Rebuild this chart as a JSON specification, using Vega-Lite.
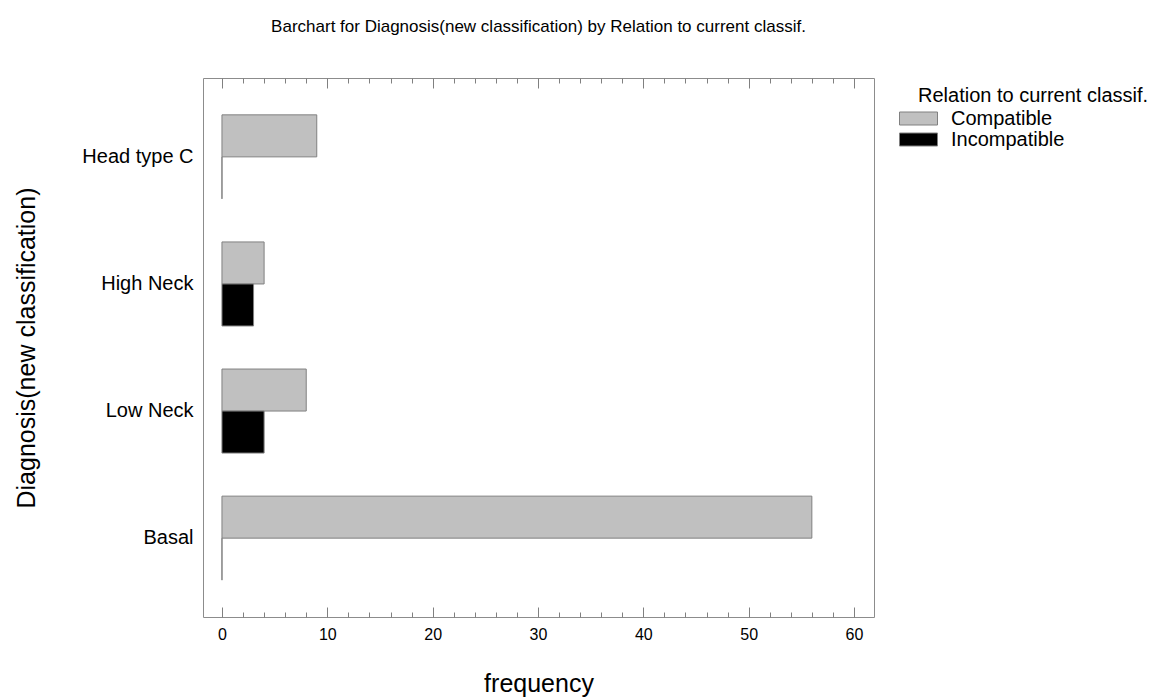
{
  "$schema": "https://vega.github.io/schema/vega-lite/v6.json",
  "width": 671,
  "height": 539,
  "autosize": {"type": "none"},
  "padding": {"left": 203, "top": 78, "right": 282, "bottom": 82},
  "background": "white",
  "title": {
    "text": "Barchart for Diagnosis(new classification) by Relation to current classif.",
    "font": "Liberation Sans",
    "fontSize": 17,
    "fontWeight": "normal",
    "color": "black",
    "anchor": "middle",
    "baseline": "bottom",
    "offset": 25
  },
  "config": {
    "view": {"stroke": "#8c8c8c", "strokeWidth": 1},
    "axis": {"domain": false, "grid": false}
  },
  "data": {
    "values": [
      {"diagnosis": "Head type C", "relation": "Compatible", "frequency": 9},
      {"diagnosis": "Head type C", "relation": "Incompatible", "frequency": 0},
      {"diagnosis": "High Neck", "relation": "Compatible", "frequency": 4},
      {"diagnosis": "High Neck", "relation": "Incompatible", "frequency": 3},
      {"diagnosis": "Low Neck", "relation": "Compatible", "frequency": 8},
      {"diagnosis": "Low Neck", "relation": "Incompatible", "frequency": 4},
      {"diagnosis": "Basal", "relation": "Compatible", "frequency": 56},
      {"diagnosis": "Basal", "relation": "Incompatible", "frequency": 0}
    ]
  },
  "encoding": {
    "y": {
      "field": "diagnosis",
      "type": "nominal",
      "sort": ["Head type C", "High Neck", "Low Neck", "Basal"],
      "scale": {"paddingInner": 0.339, "paddingOuter": 0.29},
      "axis": {
        "title": "Diagnosis(new classification)",
        "titleFont": "Liberation Sans",
        "titleFontSize": 25,
        "titleFontWeight": "normal",
        "titleColor": "black",
        "titlePadding": 42,
        "labelFont": "Liberation Sans",
        "labelFontSize": 20,
        "labelColor": "black",
        "labelPadding": 10,
        "ticks": false
      }
    }
  },
  "layer": [
    {
      "mark": {"type": "bar", "stroke": "#808080", "strokeWidth": 1},
      "encoding": {
        "x": {
          "field": "frequency",
          "type": "quantitative",
          "scale": {"domain": [-1.8, 61.9], "nice": false, "zero": false},
          "axis": {
            "orient": "bottom",
            "values": [0, 2, 4, 6, 8, 10, 12, 14, 16, 18, 20, 22, 24, 26, 28, 30, 32, 34, 36, 38, 40, 42, 44, 46, 48, 50, 52, 54, 56, 58, 60],
            "labelExpr": "datum.value % 10 === 0 ? datum.label : ''",
            "tickSize": {"condition": {"test": "datum.value % 10 === 0", "value": -10}, "value": -5},
            "tickColor": "#808080",
            "labelFont": "Liberation Sans",
            "labelFontSize": 16,
            "labelColor": "black",
            "labelPadding": 19,
            "title": "frequency",
            "titleFont": "Liberation Sans",
            "titleFontSize": 25,
            "titleFontWeight": "normal",
            "titleColor": "black",
            "titlePadding": 29
          }
        },
        "x2": {"datum": 0},
        "yOffset": {
          "field": "relation",
          "type": "nominal",
          "sort": ["Compatible", "Incompatible"],
          "scale": {"paddingInner": 0, "paddingOuter": 0}
        },
        "color": {
          "field": "relation",
          "type": "nominal",
          "scale": {"domain": ["Compatible", "Incompatible"], "range": ["#c0c0c0", "#000000"]},
          "legend": {
            "orient": "none",
            "legendX": 715,
            "legendY": 8,
            "padding": 0,
            "title": "Relation to current classif.",
            "titleFont": "Liberation Sans",
            "titleFontSize": 20,
            "titleFontWeight": "normal",
            "titleColor": "black",
            "titlePadding": 2,
            "titleLimit": 400,
            "labelFont": "Liberation Sans",
            "labelFontSize": 20,
            "labelColor": "black",
            "labelLimit": 300,
            "symbolType": "M-1.9,-0.65H1.9V0.65H-1.9Z",
            "symbolSize": 400,
            "symbolStrokeColor": "#808080",
            "symbolStrokeWidth": 1,
            "symbolOpacity": 1,
            "symbolOffset": -10,
            "labelOffset": 22,
            "rowPadding": 0
          }
        }
      }
    },
    {
      "mark": {"type": "point", "opacity": 0},
      "encoding": {
        "x": {
          "field": "frequency",
          "type": "quantitative",
          "axis": {
            "orient": "top",
            "values": [0, 2, 4, 6, 8, 10, 12, 14, 16, 18, 20, 22, 24, 26, 28, 30, 32, 34, 36, 38, 40, 42, 44, 46, 48, 50, 52, 54, 56, 58, 60],
            "labels": false,
            "title": null,
            "tickSize": {"condition": {"test": "datum.value % 10 === 0", "value": -10}, "value": -5},
            "tickColor": "#808080"
          }
        }
      }
    }
  ],
  "resolve": {"axis": {"x": "independent"}}
}
